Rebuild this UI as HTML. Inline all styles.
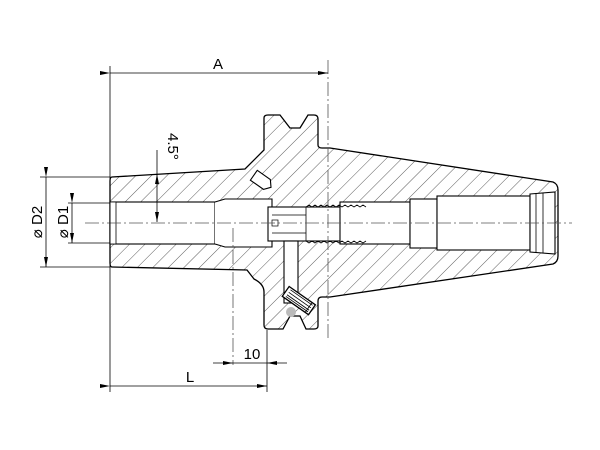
<!DOCTYPE html>
<html><head><meta charset="utf-8"><style>html,body{margin:0;padding:0;background:#fff}svg{display:block}</style></head><body>
<svg width="600" height="450" viewBox="0 0 600 450" xmlns="http://www.w3.org/2000/svg" font-family="Liberation Sans, sans-serif">
<defs>
<pattern id="h" patternUnits="userSpaceOnUse" width="11" height="11" patternTransform="rotate(45)">
<line x1="0" y1="0" x2="0" y2="11" stroke="#333" stroke-width="0.8"/>
</pattern>
<marker id="ar" markerWidth="10" markerHeight="6" refX="10" refY="3" orient="auto" markerUnits="userSpaceOnUse"><path d="M0,1 L10,3 L0,5z" fill="#000"/></marker>
</defs>
<path d="M112,177 L245,169 L264,150 L264,118 Q264,115 268,115 L280,115 L290,128 L300,128 L308,115 L314,115 Q318,115 318,119 L318,145 Q318,148 322,148 L330,148 L553,182 Q558,184 558,190 L558,256 Q558,262 553,264 L330,297 L322,297 Q318,297 318,301 L318,326 Q318,329 314,329 L306,329 L300,316 L290,316 L283,329 L268,329 Q264,329 264,325 L264,292 Q264,284 254,279 L247,270 L112,267 Q110,267 110,263 L110,181 Q110,177 112,177 Z" fill="url(#h)" stroke="#000" stroke-width="1.3"/>
<g fill="#fff" stroke="#000" stroke-width="1.1">
<rect x="110" y="202" width="105" height="42"/>
<rect x="110" y="202" width="6" height="42" stroke-width="0.8"/>
<path d="M215,202 L225,199 L272,199 L272,247 L225,247 L215,244"/>
<rect x="268" y="207" width="100" height="34"/>
<line x1="306" y1="207" x2="306" y2="241" stroke-width="0.8"/>
<line x1="272" y1="215" x2="306" y2="215" stroke-width="0.7"/>
<line x1="272" y1="233" x2="306" y2="233" stroke-width="0.7"/>
<rect x="272" y="220" width="6" height="6" stroke-width="0.7"/>
<rect x="340" y="202" width="70" height="42"/>
<rect x="410" y="199" width="27" height="49"/>
<rect x="437" y="196" width="93" height="54"/>
<path d="M530,194 L555,192 L555,254 L530,252 Z"/>
<line x1="536" y1="193" x2="536" y2="253" stroke-width="0.8"/>
<line x1="543" y1="193" x2="543" y2="253" stroke-width="0.8"/>
<rect x="284" y="241" width="14" height="62"/>
</g>
<path d="M306,207 l3,-2 l3,2 l3,-2 l3,2 l3,-2 l3,2 l3,-2 l3,2 l3,-2 l3,2 l3,-2 l3,2 l3,-2 l3,2 l3,-2 l3,2 l3,-2 l3,2 l3,-2 l3,2" fill="none" stroke="#000" stroke-width="0.8"/>
<path d="M306,241 l3,2 l3,-2 l3,2 l3,-2 l3,2 l3,-2 l3,2 l3,-2 l3,2 l3,-2 l3,2 l3,-2 l3,2 l3,-2 l3,2 l3,-2 l3,2 l3,-2 l3,2 l3,-2" fill="none" stroke="#000" stroke-width="0.8"/>
<g transform="translate(262,181) rotate(35)"><path d="M-10,-6 L6,-6 L11,0 L6,6 L-10,6 Z" fill="#fff" stroke="#000" stroke-width="1.1"/></g>
<g transform="translate(298,300) rotate(35)"><rect x="-15" y="-6" width="32" height="12" fill="#fff" stroke="#000" stroke-width="1.3"/>
<g stroke="#000" stroke-width="0.8"><line x1="-12" y1="-4" x2="15" y2="-4"/><line x1="-12" y1="-1" x2="15" y2="-1"/><line x1="-12" y1="2" x2="15" y2="2"/><line x1="-12" y1="4" x2="15" y2="4"/><line x1="13" y1="-6" x2="13" y2="6"/></g></g>
<circle cx="291" cy="312" r="5" fill="#bbb"/>
<g stroke="#555" stroke-width="0.8" stroke-dasharray="14,3,2,3" fill="none">
<line x1="85" y1="223" x2="572" y2="223"/>
<line x1="328" y1="60" x2="328" y2="340"/>
<line x1="233" y1="228" x2="233" y2="365"/>
</g>
<g stroke="#000" stroke-width="0.8" fill="none">
<line x1="110" y1="66" x2="110" y2="392"/>
<line x1="267" y1="330" x2="267" y2="392"/>
<line x1="110" y1="73" x2="328" y2="73" marker-start="url(#ar)" marker-end="url(#ar)"/>
<line x1="110" y1="386" x2="267" y2="386" marker-start="url(#ar)" marker-end="url(#ar)"/>
<line x1="213" y1="363" x2="233" y2="363" marker-end="url(#ar)"/>
<line x1="287" y1="363" x2="267" y2="363" marker-end="url(#ar)"/>
<line x1="233" y1="363" x2="267" y2="363"/>
<line x1="40" y1="177" x2="110" y2="177"/>
<line x1="40" y1="267" x2="110" y2="267"/>
<line x1="46" y1="177" x2="46" y2="267" marker-start="url(#ar)" marker-end="url(#ar)"/>
<line x1="68" y1="203" x2="110" y2="203"/>
<line x1="68" y1="243" x2="110" y2="243"/>
<line x1="72" y1="203" x2="72" y2="243" marker-start="url(#ar)" marker-end="url(#ar)"/>
<line x1="157" y1="150" x2="157" y2="174"/>
<line x1="157" y1="190" x2="157" y2="174" marker-end="url(#ar)"/>
<line x1="157" y1="190" x2="157" y2="222" marker-end="url(#ar)"/>
</g>
<g font-size="15" fill="#000">
<text x="218" y="69" text-anchor="middle">A</text>
<text x="190" y="382" text-anchor="middle">L</text>
<text x="252" y="359" text-anchor="middle">10</text>
<text transform="translate(42,222) rotate(-90)" text-anchor="middle">⌀ D2</text>
<text transform="translate(68,222) rotate(-90)" text-anchor="middle">⌀ D1</text>
<text transform="translate(168,133) rotate(90)">4.5°</text>
</g>
</svg>
</body></html>
